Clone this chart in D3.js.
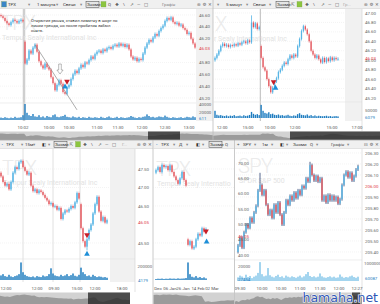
<!DOCTYPE html>
<html>
<head>
<meta charset="utf-8">
<script src="https://cdn.jsdelivr.net/npm/d3@7"></script>
<style>
body { margin: 0; background: #fff; }
svg { display: block; font-family: Roboto, "DejaVu Sans", sans-serif; }
</style>
</head>
<body>
<svg width="380" height="304"></svg>
<script>
// ---- TPX 1 min (top left) ----
var p1Close = [46.58,46.55,46.50,46.46,46.43,46.48,46.52,46.50,46.47,46.50,46.52,46.49,
  45.78,45.85,46.00,45.95,46.05,46.10,45.98,45.82,45.75,45.70,45.78,45.72,
  45.68,45.55,45.45,45.33,45.42,45.50,45.44,45.30,45.27,45.38,45.42,45.52,
  45.60,45.66,45.62,45.70,45.76,45.72,45.80,45.78,45.84,45.90,45.86,45.94,
  45.98,46.00,45.96,46.02,45.99,46.04,46.06,46.03,46.08,46.10,46.07,46.12,
  46.08,46.11,46.06,46.10,46.02,45.90,45.85,45.88,45.82,45.86,45.84,45.95,
  46.05,46.12,46.18,46.15,46.22,46.28,46.25,46.33,46.38,46.42,46.50,46.55,
  46.52,46.56,46.48,46.45,46.47,46.42,46.44,46.38,46.35,46.28,46.30,46.20,
  46.12,46.05];
var p1Open = {0: 46.60, 12: 46.15};
var p1Vol = [6000,5000,7000,5500,4500,6000,5000,8000,5500,6000,7000,12000,
  40000,18000,12000,10000,15000,9000,8000,12000,7000,9000,6000,10000,
  8000,7000,12000,14000,8000,7000,9000,10000,13000,8000,7000,6000,
  9000,7000,6000,8000,5000,7000,6000,5000,8000,6000,5500,7000,
  6000,5000,8000,6000,5000,7000,9000,6000,5000,6000,8000,5000,
  7000,6000,5000,6000,7000,10000,8000,6000,5000,7000,6000,8000,
  9000,14000,10000,7000,8000,6000,7000,9000,8000,7000,11000,8000,
  6000,5000,7000,6000,5000,6000,7000,5000,6000,8000,7000,6000,
  9000,7000];
var p1Ticks = [46.60,46.40,46.20,45.80,45.60,45.40,45.20];
var p1Last = 46.03;
var p1Times = ["10:02","10:00","10:30","11:00","11:30","12:00","12:30","13:00"];
var p1TimeIdx = [11, 24, 34, 48, 58.5, 70.5, 82, 94];
var p1Trades = [{i: 33, p: 45.48, side: "sell"}, {i: 32, p: 45.39, side: "buy"}];

// ---- TPX 5 min (top right) ----
var p2Close = [46.05,46.12,46.20,46.30,46.35,46.30,46.33,46.28,46.32,46.30,
  46.34,46.31,46.36,46.33,46.38,46.40,46.36,46.42,46.38,46.80,
  46.70,46.78,46.66,46.70,46.05,45.85,45.78,45.60,45.45,45.32,
  45.42,45.55,45.62,45.75,45.80,45.88,45.95,45.92,46.02,46.10,
  46.05,46.12,46.08,46.30,46.45,46.62,46.72,46.65,46.55,46.40,
  46.20,46.12,46.05,46.10,46.02,45.95,46.05,45.96,46.04,45.98,
  46.06,46.00,46.05,46.02,46.03];
var p2Open = {0: 46.00, 24: 46.30};
var p2High = {19: 46.95};
var p2Vol = [45000,20000,16000,18000,14000,12000,16000,11000,15000,13000,
  18000,11000,13000,15000,11000,17000,13000,15000,19000,38000,
  26000,20000,24000,18000,82000,45000,32000,28000,36000,24000,
  27000,20000,18000,22000,16000,18000,14000,16000,20000,14000,
  12000,16000,14000,24000,30000,20000,18000,16000,22000,14000,
  18000,12000,16000,11000,14000,12000,11000,12000,14000,10000,
  12000,9000,11000,12000,10000];
var p2Ticks = [47.00,46.80,46.60,46.40,46.20,46.00,45.80,45.60,45.40,45.20];
var p2Last = 46.03;
var p2Times = ["12:00","15:00","10:00","12:00","15:00","17:00"];
var p2TimeIdx = [3.7, 17.2, 28.6, 41.6, 60.9, 73.9];
var p2Trades = [{i: 30.5, p: 45.54, side: "sell"}, {i: 31.5, p: 45.41, side: "buy"}];

// ---- TPX 15 min (bottom left) ----
var p3Close = [47.30,47.15,47.05,47.10,46.95,47.15,47.40,47.55,47.50,47.68,
  47.72,47.55,47.45,47.35,47.40,47.05,46.90,46.95,46.85,46.92,
  46.88,46.80,46.72,46.65,46.55,46.58,46.48,46.50,46.40,46.45,
  46.15,46.30,46.38,46.35,46.42,46.50,46.45,46.60,46.85,46.70,
  45.90,45.55,45.40,45.60,45.85,46.00,46.30,46.55,46.75,46.35,
  46.10,46.20,46.05,46.12];
var p3Open = {0: 47.40, 40: 46.55};
var p3Low = {43: 45.30};
var p3Vol = [70000,90000,60000,50000,80000,55000,45000,60000,70000,90000,
  270000,120000,80000,60000,50000,45000,55000,40000,60000,50000,
  45000,70000,55000,60000,90000,180000,100000,70000,60000,55000,
  80000,60000,70000,90000,60000,75000,100000,65000,55000,80000,
  190000,120000,90000,60000,70000,50000,80000,60000,45000,55000,
  50000,40000,45000,35000];
var p3Ticks = [47.50,47.00,46.50,45.50];
var p3Last = 46.05;
var p3Times = ["12:00","12:00","09:30","15:00","12:00","18:00"];
var p3TimeIdx = [2.5, 18, 26.5, 38, 47, 60.5];
var p3Sessions = [11, 26, 39.5];
var p3Trades = [{i: 43, p: 45.72, side: "sell"}, {i: 43, p: 45.20, side: "buy"}];

// ---- TPX daily (bottom middle) ----
var p4Close = [47.47,47.55,47.42,47.61,47.55,47.58,47.47,47.60,47.42,47.30,
  47.20,47.10,47.25,47.42,47.20,47.05,45.45,45.55,45.35,45.40,
  45.60,45.75,45.70,45.90,45.80,45.88];
var p4Open = {0: 47.40, 16: 45.60};
var p4Vol = [15000,20000,18000,22000,16000,20000,18000,24000,20000,22000,
  18000,25000,20000,22000,24000,30000,270000,90000,50000,40000,
  60000,35000,45000,30000,40000,25000];
var p4Times = ["Dec","06 Jan","26 Jan","14 Feb","02 Mar"];
var p4TimeIdx = [1, 7, 13.5, 21, 28];
var p4Trades = [{i: 25, p: 45.82, side: "sell"}, {i: 25.3, p: 45.53, side: "buy"}];

// ---- SPY 1 min (bottom right) ----
var p5Close = [205.46,205.53,205.44,205.58,205.65,205.62,205.71,205.67,205.76,205.82,
  205.96,206.01,205.92,205.96,205.83,205.74,205.78,205.71,205.83,205.76,
  205.85,205.74,205.65,205.76,205.87,205.83,205.91,205.87,205.94,205.89,
  205.96,205.92,206.00,205.98,206.07,206.04,206.19,206.10,206.05,206.09,
  206.04,206.07,205.87,205.91,205.85,205.92,205.87,205.91,205.87,205.90,
  205.84,205.88,206.01,206.10,206.13,206.08,206.12,206.05,206.09,206.15,
  206.18];
var p5Open = {0: 205.40};
var p5High = {11: 206.12, 36: 206.22};
var p5Vol = [200000,300000,250000,180000,350000,220000,280000,160000,240000,300000,
  450000,1050000,380000,260000,300000,720000,320000,240000,200000,280000,
  350000,220000,260000,180000,300000,240000,200000,260000,220000,180000,
  240000,300000,200000,260000,380000,500000,280000,220000,260000,200000,
  240000,420000,260000,200000,180000,220000,260000,200000,240000,180000,
  200000,360000,240000,180000,220000,200000,260000,300000,220000,180000,
  240000];
var p5Ticks = [206.30,206.20,206.10,205.90,205.80,205.70,205.60,205.50,205.40];
var p5Last = 206.00;
var p5LeftTicks = [70,65,60,55,50,45,40];
var p5LeftLast = 46.05;
var p5Times = ["09:30","10:00","10:30","11:00","11:30","12:00","12:27"];
var p5TimeIdx = [1, 12, 21.5, 31, 41, 50.5, 59.5];

var UP = "#58b5e5", DN = "#e3575d", VOLC = "#1f7dc0";
var fmt = d3.format(".2f");
var svg = d3.select("svg");
var defs = svg.append("defs");
var clipN = 0;

function clipRect(x, y, w, h) {
  var id = "cl" + (clipN++);
  defs.append("clipPath").attr("id", id).append("rect")
    .attr("x", x).attr("y", y).attr("width", w).attr("height", h);
  return "url(#" + id + ")";
}

function txt(g, x, y, s, size, col, anchor) {
  return g.append("text").attr("x", x).attr("y", y).text(s)
    .attr("font-size", size).attr("fill", col || "#555")
    .attr("text-anchor", anchor || "start");
}

function candles(g, closes, opens, hi, lo, x, y, bw, wickCol) {
  var data = closes.map(function(c, i) {
    var o = (i in opens) ? opens[i] : closes[i - 1];
    return {i: i, o: o, c: c, h: hi[i], l: lo[i]};
  });
  var k = g.append("g").selectAll("g").data(data).enter().append("g");
  k.append("line")
    .attr("x1", function(d) { return x(d.i); })
    .attr("x2", function(d) { return x(d.i); })
    .attr("y1", function(d) { return d.h != null ? y(d.h) : Math.min(y(d.o), y(d.c)) - 1.5; })
    .attr("y2", function(d) { return d.l != null ? y(d.l) : Math.max(y(d.o), y(d.c)) + 1.5; })
    .attr("stroke", function(d) { return wickCol || (d.c >= d.o ? UP : "#f0a0a4"); })
    .attr("stroke-width", 0.8);
  k.append("rect")
    .attr("x", function(d) { return x(d.i) - bw / 2; })
    .attr("width", bw)
    .attr("y", function(d) { return Math.min(y(d.o), y(d.c)); })
    .attr("height", function(d) { return Math.max(0.8, Math.abs(y(d.o) - y(d.c))); })
    .attr("fill", function(d) { return d.c >= d.o ? UP : DN; });
}

function volume(g, vols, x, yv, bw, col) {
  g.append("g").selectAll("rect").data(vols).enter().append("rect")
    .attr("x", function(d, i) { return x(i) - bw / 2; })
    .attr("width", bw)
    .attr("y", function(d) { return yv(d); })
    .attr("height", function(d) { return yv(0) - yv(d); })
    .attr("fill", col);
}

function grid(g, ticks, y, x0, x1) {
  g.append("g").selectAll("line").data(ticks).enter().append("line")
    .attr("x1", x0).attr("x2", x1)
    .attr("y1", function(d) { return y(d); }).attr("y2", function(d) { return y(d); })
    .attr("stroke", "#ececec").attr("stroke-width", 0.6).attr("stroke-dasharray", "1,1");
}

function priceLabels(g, ticks, y, xp, last, f) {
  f = f || fmt;
  g.append("g").selectAll("text").data(ticks).enter().append("text")
    .attr("x", xp).attr("y", function(d) { return y(d) + 1.6; })
    .attr("font-size", 4.4).attr("fill", "#666").text(f);
  txt(g, xp, y(last) + 1.6, f(last), 4.4, "#e0393f");
}

function timeLabels(g, labels, idx, x, yp) {
  g.append("g").selectAll("text").data(labels).enter().append("text")
    .attr("x", function(d, i) { return x(idx[i]); }).attr("y", yp)
    .attr("text-anchor", "middle").attr("font-size", 4.4).attr("fill", "#555")
    .text(function(d) { return d; });
}

function trades(g, list, x, y) {
  g.append("g").selectAll("path").data(list).enter().append("path")
    .attr("d", d3.symbol(d3.symbolTriangle, 14))
    .attr("transform", function(d) {
      return "translate(" + x(d.i) + "," + y(d.p) + ")" + (d.side === "sell" ? " rotate(180)" : "");
    })
    .attr("fill", function(d) { return d.side === "sell" ? "#c81e28" : "#1e8fd8"; });
}

function watermark(g, x, y, big, small, x2) {
  txt(g, x, y, big, 20, "#ebebeb").attr("font-weight", 300).attr("letter-spacing", -0.6);
  txt(g, x2 == null ? x + 1 : x2, y + 10, small, 7, "#e3e3e3");
}

function navigator(g, closes, x0, x1, y0, y1, dark0, dark1) {
  g.append("rect").attr("x", x0).attr("y", y0).attr("width", x1 - x0).attr("height", y1 - y0).attr("fill", "#d2d2d2");
  var nx = d3.scaleLinear().domain([0, closes.length - 1]).range([x0, x1]);
  var ny = d3.scaleLinear().domain(d3.extent(closes)).range([y1 - 2, y0 + 2]);
  g.append("path").datum(closes)
    .attr("d", d3.area().x(function(d, i) { return nx(i); }).y0(y1).y1(function(d) { return ny(d); }))
    .attr("fill", "#9b9b9b");
  g.append("rect").attr("x", dark0).attr("y", y0).attr("width", dark1 - dark0).attr("height", y1 - y0)
    .attr("fill", "#262626").attr("opacity", 0.78);
}

function toolbar(x0, x1, y0, items) {
  var g = svg.append("g");
  g.append("rect").attr("x", x0).attr("y", y0).attr("width", x1 - x0).attr("height", 8.5).attr("fill", "#f0f0f0");
  g.append("line").attr("x1", x0).attr("x2", x1).attr("y1", y0 + 8.5).attr("y2", y0 + 8.5).attr("stroke", "#d4d4d4").attr("stroke-width", 0.6);
  items.forEach(function(it) {
    if (it.btn) {
      g.append("rect").attr("x", it.x - 1).attr("y", y0 + 1.3).attr("width", it.w).attr("height", 6)
        .attr("fill", "#e6e6e6").attr("stroke", "#444").attr("stroke-width", 0.5);
    }
    if (it.box) {
      g.append("rect").attr("x", it.x).attr("y", y0 + 1.5).attr("width", 5).attr("height", 5.5)
        .attr("fill", it.box).attr("stroke", "#7a9a55").attr("stroke-width", 0.3);
    }
    if (it.t) txt(g, it.x, y0 + 5.9, it.t, it.s || 4.4, it.c || "#333");
  });
}

// ============ panel 1 ============
(function() {
  var g = svg.append("g");
  var x = d3.scaleLinear().domain([0, p1Close.length - 1]).range([1, 195]);
  var y = d3.scaleLinear().domain([45.20, 46.60]).range([98, 15]);
  var yv = d3.scaleLinear().domain([0, 40000]).range([120, 104]);
  var cg = g.append("g").attr("clip-path", clipRect(0, 9, 213, 112));
  cg.append("rect").attr("x", 196).attr("y", 9).attr("width", 17).attr("height", 112).attr("fill", "#f1f1f1");
  grid(cg, p1Ticks, y, 0, 196);
  cg.append("line").attr("x1", x(11.5)).attr("x2", x(11.5)).attr("y1", 9).attr("y2", 121).attr("stroke", "#cfcfcf").attr("stroke-width", 2.5);
  watermark(cg, 1, 30, "TPX", "Tempur Sealy International Inc");
  cg.append("line").attr("x1", 0).attr("x2", 196).attr("y1", 103).attr("y2", 103).attr("stroke", "#e2e2e2").attr("stroke-width", 0.6);
  volume(cg, p1Vol, x, yv, 1.4, VOLC);
  candles(cg, p1Close, p1Open, {}, {}, x, y, 1.3);
  // trend line drawn by hand in the terminal
  cg.append("line").attr("x1", x(17)).attr("y1", y(46.10)).attr("x2", x(38)).attr("y2", y(45.0))
    .attr("stroke", "#8a8a8a").attr("stroke-width", 0.7);
  cg.append("path").attr("d", "M-1.3,0 h2.6 v6 h1.8 l-3.1,4 l-3.1,-4 h1.8 z")
    .attr("transform", "translate(" + x(29.5) + "," + 64 + ")")
    .attr("fill", "#fff").attr("stroke", "#777").attr("stroke-width", 0.5);
  trades(cg, p1Trades, x, y);
  var note = ["Открытие рынка, ставил лимитку в шорт по", "линии тренда, но после пробития забыл", "снять."];
  note.forEach(function(s, i) { txt(cg, 31, 21.5 + i * 5, s, 4.2, "#333"); });
  priceLabels(g, p1Ticks, y, 199, p1Last);
  txt(g, 199, 105.5, "40000", 4.4, "#666");
  txt(g, 199, 113.5, "20000", 4.4, "#666");
  txt(g, 199, 120, "611", 4.4, "#1f7dc0");
  timeLabels(g, p1Times, p1TimeIdx, x, 128.5);
  navigator(g, p1Close, 0, 213, 131.5, 140, 148, 180);
  toolbar(0, 213, 0, [
    {x: 1.5, box: "#3a86c8"}, {x: 8, t: "TPX"}, {x: 28, t: "▾", c: "#888"},
    {x: 37, t: "1 минута"}, {x: 56, t: "▾", c: "#888"},
    {x: 63, t: "Свечи"}, {x: 80, t: "▾", c: "#888"},
    {x: 87, t: "Зноми", btn: true, w: 13}, {x: 101, box: "#8cc63f"},
    {x: 108, t: "Q", c: "#444"}, {x: 115, t: "❖", c: "#444"}, {x: 123, t: "\\", c: "#444"},
    {x: 130, t: "↗", c: "#444"}, {x: 137, t: "—", c: "#444"}, {x: 144, t: "□", c: "#444"},
    {x: 162, t: "Графік", c: "#888"}, {x: 197, t: "⊕", c: "#666"}, {x: 202.5, t: "⚙", c: "#666"}, {x: 208, t: "✕", c: "#666"}
  ]);
})();

// ============ panel 2 ============
(function() {
  var g = svg.append("g");
  var x = d3.scaleLinear().domain([0, p2Close.length - 1]).range([215, 338]);
  var y = d3.scaleLinear().domain([45.20, 47.00]).range([98, 13]);
  var yv = d3.scaleLinear().domain([0, 50000]).range([118, 110]);
  var cg = g.append("g").attr("clip-path", clipRect(213.5, 9, 148.5, 112));
  cg.append("rect").attr("x", 345).attr("y", 9).attr("width", 17).attr("height", 112).attr("fill", "#f1f1f1");
  grid(cg, p2Ticks, y, 213, 345);
  cg.append("line").attr("x1", x(23.6)).attr("x2", x(23.6)).attr("y1", 9).attr("y2", 121).attr("stroke", "#c6c6c6").attr("stroke-width", 1.2);
  // the watermark of this window starts left of its edge, only its tail shows
  watermark(cg, 215, 31, "X", "r Sealy International Inc", 214);
  cg.append("line").attr("x1", 213).attr("x2", 362).attr("y1", 102).attr("y2", 102).attr("stroke", "#e2e2e2").attr("stroke-width", 0.6);
  volume(cg, p2Vol, x, yv, 1.4, VOLC);
  candles(cg, p2Close, p2Open, p2High, {}, x, y, 1.3);
  trades(cg, p2Trades, x, y);
  g.append("line").attr("x1", 362).attr("x2", 362).attr("y1", 9).attr("y2", 131).attr("stroke", "#d0d0d0").attr("stroke-width", 0.6);
  priceLabels(g, p2Ticks, y, 365, p2Last);
  txt(g, 365, 111.5, "50000", 4.4, "#666");
  txt(g, 365, 119, "6079", 4.4, "#1f7dc0");
  timeLabels(g, p2Times, p2TimeIdx, x, 128.5);
  navigator(g, p2Close, 213, 380, 131.5, 140, 290, 380);
  toolbar(213, 380, 0, [
    {x: 217, t: "▾", c: "#888"}, {x: 226, t: "5 минут"}, {x: 246, t: "▾", c: "#888"},
    {x: 253, t: "Свечи"}, {x: 269, t: "▾", c: "#888"},
    {x: 277, t: "Зноми", btn: true, w: 13}, {x: 291, t: "⇱", c: "#444"}, {x: 297, box: "#8cc63f"},
    {x: 305, t: "❖", c: "#444"}, {x: 313, t: "\\", c: "#444"}, {x: 321, t: "↗", c: "#444"},
    {x: 328, t: "—", c: "#444"}, {x: 335, t: "□", c: "#444"},
    {x: 343, t: "Гр...", c: "#aaa"}, {x: 364, t: "⊕", c: "#666"}, {x: 369.5, t: "⚙", c: "#666"}, {x: 375, t: "✕", c: "#666"}
  ]);
  svg.append("line").attr("x1", 213).attr("x2", 213).attr("y1", 0).attr("y2", 140).attr("stroke", "#bdbdbd").attr("stroke-width", 0.8);
})();

// ============ panel 3 ============
(function() {
  var g = svg.append("g");
  var x = d3.scaleLinear().domain([0, p3Close.length - 1]).range([1, 107]);
  var y = d3.scaleLinear().domain([45.50, 47.50]).range([243, 169]);
  var yv = d3.scaleLinear().domain([0, 200000]).range([280, 267]);
  var cg = g.append("g").attr("clip-path", clipRect(0, 149, 135, 133));
  cg.append("rect").attr("x", 110).attr("y", 149).attr("width", 25).attr("height", 133).attr("fill", "#f1f1f1");
  grid(cg, p3Ticks, y, 0, 110);
  p3Sessions.forEach(function(s) {
    cg.append("line").attr("x1", x(s)).attr("x2", x(s)).attr("y1", 149).attr("y2", 282).attr("stroke", "#dcdcdc").attr("stroke-width", 0.9);
  });
  watermark(cg, 2, 175, "TPX", "Tempur Sealy International Inc");
  cg.append("line").attr("x1", 0).attr("x2", 135).attr("y1", 259).attr("y2", 259).attr("stroke", "#e2e2e2").attr("stroke-width", 0.6);
  volume(cg, p3Vol, x, yv, 1.5, VOLC);
  candles(cg, p3Close, p3Open, {}, p3Low, x, y, 1.4);
  trades(cg, p3Trades, x, y);
  g.append("line").attr("x1", 135).attr("x2", 135).attr("y1", 149).attr("y2", 292).attr("stroke", "#d0d0d0").attr("stroke-width", 0.6);
  priceLabels(g, p3Ticks, y, 138, p3Last);
  txt(g, 137.5, 268, "200000", 4.4, "#666");
  txt(g, 138, 281.5, "4179", 4.4, "#1f7dc0");
  timeLabels(g, p3Times, p3TimeIdx, x, 289.5);
  navigator(g, p3Close, 0, 130, 292.5, 304, 88, 130);
  toolbar(0, 153, 140, [
    {x: 1.5, t: "•", c: "#3a86c8"}, {x: 6, t: "TPX"}, {x: 21, t: "▾", c: "#888"},
    {x: 25, t: "15м"}, {x: 33, t: "▾", c: "#888"}, {x: 42, t: "◧", c: "#333"}, {x: 48, t: "▾", c: "#888"},
    {x: 55, t: "Зноми", btn: true, w: 13}, {x: 69.5, t: "⇱", c: "#444"}, {x: 75.5, box: "#8cc63f"},
    {x: 83, t: "❖", c: "#444"}, {x: 91, t: "\\", c: "#444"}, {x: 98, t: "↗", c: "#444"},
    {x: 105, t: "—", c: "#444"}, {x: 112, t: "□", c: "#444"},
    {x: 122, t: "Г...", c: "#aaa"}, {x: 137, t: "⊕", c: "#666"}, {x: 142.5, t: "⚙", c: "#666"}, {x: 148, t: "✕", c: "#666"}
  ]);
})();

// ============ panel 4 ============
(function() {
  var g = svg.append("g");
  var x = d3.scaleLinear().domain([0, p4Close.length - 1]).range([156, 206]);
  var y = d3.scaleLinear().domain([45.50, 47.50]).range([243, 169]);
  var yv = d3.scaleLinear().domain([0, 200000]).range([280, 267]);
  var cg = g.append("g").attr("clip-path", clipRect(153.5, 149, 80.5, 133));
  grid(cg, p3Ticks, y, 153, 234);
  watermark(cg, 156, 176, "TPX", "Tempur Sealy Internatio");
  cg.append("line").attr("x1", 153).attr("x2", 234).attr("y1", 259).attr("y2", 259).attr("stroke", "#e2e2e2").attr("stroke-width", 0.6);
  volume(cg, p4Vol, x, yv, 1.5, VOLC);
  candles(cg, p4Close, p4Open, {}, {}, x, y, 1.4);
  trades(cg, p4Trades, x, y);
  timeLabels(g, p4Times, p4TimeIdx, x, 289.5);
  navigator(g, p4Close, 153.5, 234, 292.5, 304, 234, 234);
  toolbar(153.5, 234, 140, [
    {x: 156, t: "•", c: "#3a86c8"}, {x: 161, t: "TPX"}, {x: 173, t: "▾", c: "#888"},
    {x: 179, t: "Д"}, {x: 186, t: "▾", c: "#888"}, {x: 196, t: "◧", c: "#333"}, {x: 202, t: "▾", c: "#888"},
    {x: 210, t: "Зноми", btn: true, w: 13}, {x: 225, t: "Q", c: "#444"}
  ]);
  svg.append("line").attr("x1", 153).attr("x2", 153).attr("y1", 140).attr("y2", 304).attr("stroke", "#bdbdbd").attr("stroke-width", 0.8);
})();

// ============ panel 5 ============
(function() {
  var g = svg.append("g");
  var x = d3.scaleLinear().domain([0, p5Close.length - 1]).range([238, 358]);
  var y = d3.scaleLinear().domain([205.40, 206.30]).range([252, 153]);
  var yl = d3.scaleLinear().domain([40, 70]).range([255, 163]);
  var yv = d3.scaleLinear().domain([0, 1000000]).range([281, 263]);
  var cg = g.append("g").attr("clip-path", clipRect(234.5, 149, 127.5, 133));
  grid(cg, p5Ticks, y, 234, 362);
  watermark(cg, 238, 173, "SPY", "SPDR S&P 500");
  cg.append("line").attr("x1", 234).attr("x2", 362).attr("y1", 260).attr("y2", 260).attr("stroke", "#e2e2e2").attr("stroke-width", 0.6);
  volume(cg, p5Vol, x, yv, 1.5, "#86c8ea");
  candles(cg, p5Close, p5Open, p5High, {}, x, y, 1.4, "#2c4275");
  g.append("line").attr("x1", 362).attr("x2", 362).attr("y1", 149).attr("y2", 292).attr("stroke", "#d0d0d0").attr("stroke-width", 0.6);
  priceLabels(g, p5Ticks, y, 365, p5Last);
  priceLabels(g, p5LeftTicks, yl, 238, p5LeftLast);
  txt(g, 238, 268, "20000", 4.4, "#666");
  txt(g, 238, 280.5, "27454", 4.4, "#1f7dc0");
  txt(g, 364, 264.5, "1000000", 4.4, "#666");
  txt(g, 365, 280, "60087", 4.4, "#1f7dc0");
  timeLabels(g, p5Times, p5TimeIdx, x, 289.5);
  navigator(g, p5Close, 234.5, 362, 292.5, 304, 352, 360);
  toolbar(234.5, 380, 140, [
    {x: 237, t: "+", c: "#555"}, {x: 243, t: "SPY"}, {x: 254, t: "▾", c: "#888"},
    {x: 262, t: "1м"}, {x: 271, t: "▾", c: "#888"}, {x: 280, t: "◧", c: "#333"}, {x: 286, t: "▾", c: "#888"},
    {x: 293, t: "Зноми"}, {x: 310, t: "Q", c: "#444"}, {x: 316, t: "▾", c: "#888"},
    {x: 331, t: "Графік", c: "#555"}, {x: 347, t: "▾", c: "#888"},
    {x: 364, t: "⊟", c: "#666"}, {x: 369.5, t: "⚙", c: "#666"}, {x: 375, t: "✕", c: "#666"}
  ]);
  svg.append("line").attr("x1", 234.5).attr("x2", 234.5).attr("y1", 140).attr("y2", 304).attr("stroke", "#bdbdbd").attr("stroke-width", 0.8);
  svg.append("text").attr("x", 378).attr("y", 301.5).attr("text-anchor", "end")
    .attr("font-size", 12.5).attr("font-family", "'DejaVu Sans', sans-serif")
    .attr("fill", "#2e55b5").attr("stroke", "#fff").attr("stroke-width", 1.2)
    .attr("paint-order", "stroke").text("hamaha.net");
})();

svg.append("line").attr("x1", 0).attr("x2", 380).attr("y1", 140).attr("y2", 140).attr("stroke", "#a8a8a8").attr("stroke-width", 0.8);
</script>
</body>
</html>
